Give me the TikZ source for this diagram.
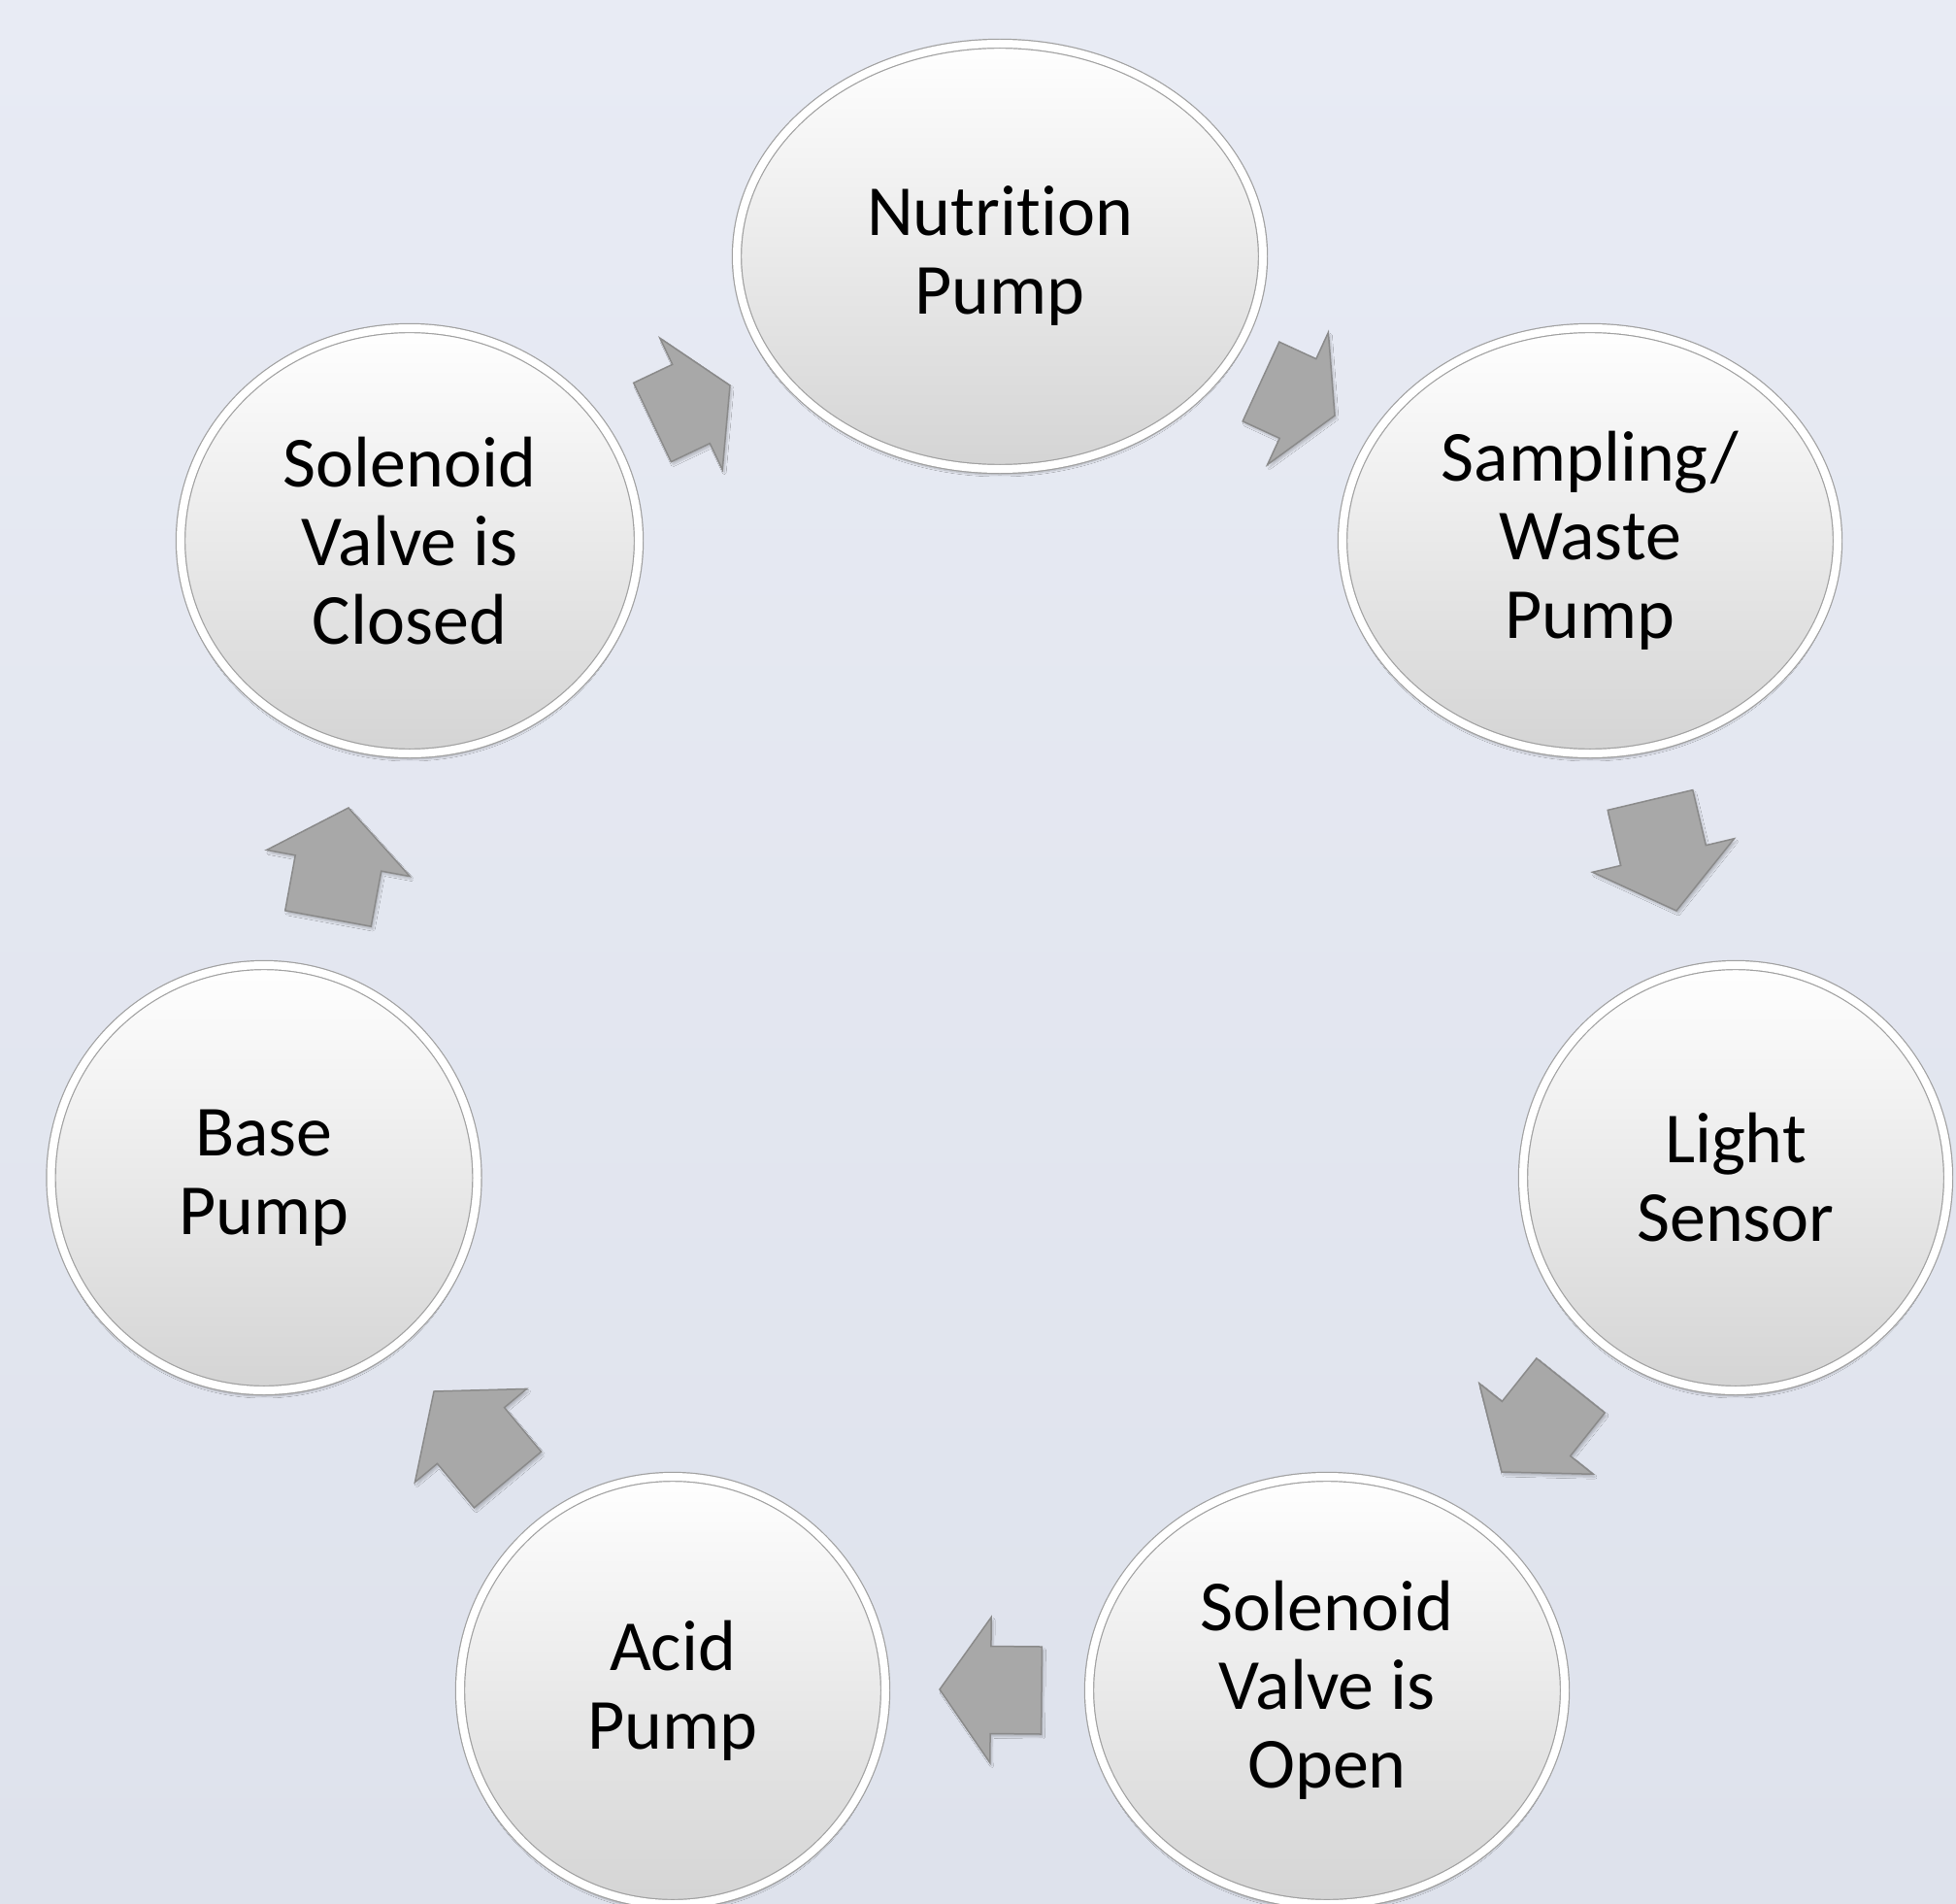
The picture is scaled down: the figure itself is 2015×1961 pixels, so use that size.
\documentclass[tikz,border=0pt]{standalone}
\usepackage{fontspec}
\setmainfont[Ligatures={NoCommon}]{Carlito}
\usetikzlibrary{shapes.geometric,calc,shadows.blur}
\definecolor{bgtop}{RGB}{232,235,244}
\definecolor{bgbot}{RGB}{222,226,236}
\definecolor{arrfill}{RGB}{168,168,168}
\definecolor{arredge}{RGB}{138,138,138}
\definecolor{rimline}{RGB}{160,160,160}
\definecolor{ellbot}{RGB}{212,212,212}
\newcommand\cyclearrow[2]{%
  \coordinate (m) at ($(#1)!0.5!(#2)$);
  \filldraw[blockarr] ($(#1)!45pt!90:(#2)$) -- ($(m)!45pt!90:(#2)$) -- ($(m)!75pt!90:(#2)$) -- (#2)
    -- ($(m)!75pt!-90:(#2)$) -- ($(m)!45pt!-90:(#2)$) -- ($(#1)!45pt!-90:(#2)$) -- cycle;
}
\begin{document}
\begin{tikzpicture}[x=1pt,y=-1pt,
  stage/.style={ellipse, inner sep=0pt, align=center, font=\fontsize{74}{81}\selectfont,
    top color=white, bottom color=ellbot, draw=rimline, line width=1.2pt,
    double=white, double distance=8pt,
    blur shadow={shadow xshift=0pt, shadow yshift=-6pt, shadow blur steps=8, shadow opacity=25}},
  blockarr/.style={fill=arrfill, draw=arredge, line width=1.5pt, line join=miter,
    blur shadow={shadow xshift=2pt, shadow yshift=-3pt, shadow blur steps=6, shadow opacity=20}}
]
\path[use as bounding box] (0,0) rectangle (2015,1961);
\shade[top color=bgtop, bottom color=bgbot] (0,0) rectangle (2015,1961);
\begin{scope}
\clip (0,0) rectangle (2015,1961);
\node[stage, minimum width=542pt, minimum height=438pt] (n1) at (1030,264) {Nutrition\\Pump};
\node[stage, minimum width=510pt, minimum height=438pt] (n2) at (1638,557) {Sampling/\\Waste\\Pump};
\node[stage, minimum width=438pt, minimum height=438pt] (n3) at (1788,1213) {Light\\Sensor};
\node[stage, minimum width=490pt, minimum height=440pt] (n4) at (1367,1741) {Solenoid\\Valve is\\Open};
\node[stage, minimum width=438pt, minimum height=440pt] (n5) at (693,1741) {Acid\\Pump};
\node[stage, minimum width=439pt, minimum height=438pt] (n6) at (272,1213) {Base\\Pump};
\node[stage, minimum width=472pt, minimum height=438pt] (n7) at (422,557) {Solenoid\\Valve is\\Closed};

\coordinate (t1) at (1299,393);  \coordinate (h1) at (1375,428);
\coordinate (t2) at (1700,824);  \coordinate (h2) at (1727,938);
\coordinate (t3) at (1618,1427); \coordinate (h3) at (1547,1516);
\coordinate (t4) at (1073,1741); \coordinate (h4) at (968,1740);
\coordinate (t5) at (523,1524);  \coordinate (h5) at (447,1433);
\coordinate (t6) at (338,946);   \coordinate (h6) at (359,832);
\coordinate (t7) at (672,435);   \coordinate (h7) at (752,397);
\cyclearrow{t1}{h1}
\cyclearrow{t2}{h2}
\cyclearrow{t3}{h3}
\cyclearrow{t4}{h4}
\cyclearrow{t5}{h5}
\cyclearrow{t6}{h6}
\cyclearrow{t7}{h7}
\end{scope}
\end{tikzpicture}
\end{document}
